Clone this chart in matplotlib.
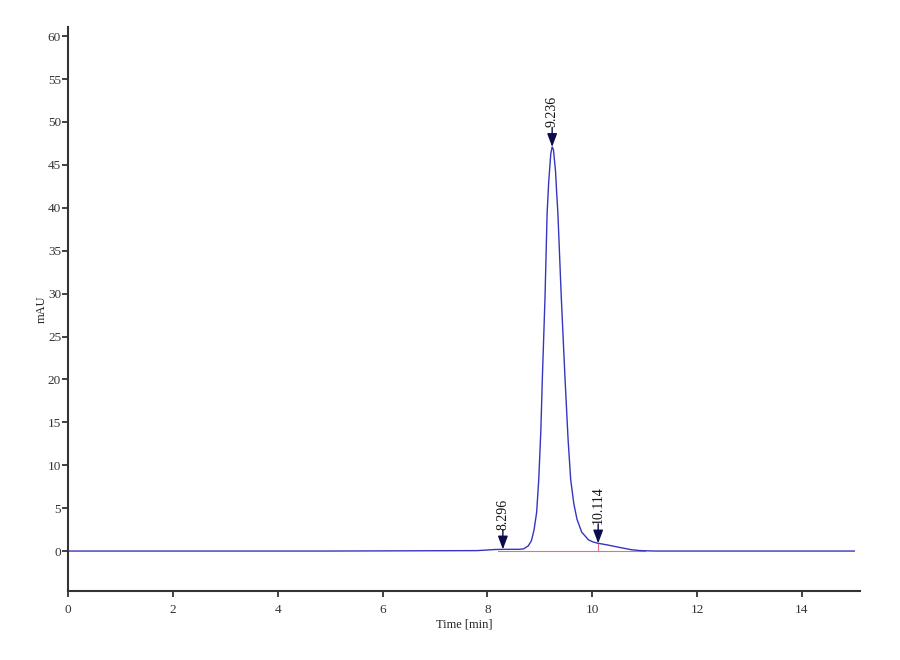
import matplotlib
matplotlib.use("Agg")
import matplotlib.pyplot as plt

# ---- data ----
time_min = [0.0, 5.0, 7.8, 8.0, 8.15, 8.3, 8.45, 8.6, 8.69, 8.78, 8.84, 8.89, 8.94,
            8.98, 9.02, 9.05, 9.10, 9.14, 9.17, 9.21, 9.236, 9.26, 9.30, 9.32,
            9.345, 9.41, 9.48, 9.54, 9.59, 9.65, 9.71, 9.80, 9.93, 10.02, 10.114,
            10.3, 10.54, 10.75, 10.92, 11.2, 15.0]
signal_mau = [0.0, 0.0, 0.05, 0.12, 0.18, 0.2, 0.2, 0.2, 0.25, 0.6, 1.2, 2.45, 4.5,
              8.3, 14.0, 20.3, 29.6, 39.4, 43.0, 46.3, 47.1, 46.8, 44.3, 42.0,
              39.4, 29.6, 20.3, 13.0, 8.3, 5.5, 3.7, 2.2, 1.3, 1.05, 0.9,
              0.7, 0.4, 0.15, 0.05, 0.0, 0.0]
peak_times = [8.296, 9.236, 10.114]
peak_heights = [0.2, 47.1, 0.9]
peak_labels = ["8.296", "9.236", "10.114"]
x_ticks = [0, 2, 4, 6, 8, 10, 12, 14]
y_ticks = [0, 5, 10, 15, 20, 25, 30, 35, 40, 45, 50, 55, 60]
baseline_range = [8.2, 11.0]

plt.rcParams['font.family'] = ['Liberation Serif', 'DejaVu Serif']

fig = plt.figure(figsize=(9, 6.6), dpi=100)
ax = fig.add_axes([0.0756, 0.1045, 0.880, 0.855])

# integration baseline and drop line
ax.plot(baseline_range, [0, 0], color='#e07090', lw=0.8, zorder=1)
ax.plot([peak_times[2], peak_times[2]], [0, peak_heights[2]], color='#e07090', lw=0.8, zorder=1)

ax.plot(time_min, signal_mau, color='#3535c0', lw=1.0, zorder=2)

navy = '#0b0b4a'
for t, h, lab in zip(peak_times, peak_heights, peak_labels):
    ax.annotate('', xy=(t, h), xytext=(0, 14), textcoords='offset points',
                arrowprops=dict(arrowstyle='-|>,head_width=0.3,head_length=0.8',
                                color=navy, lw=1.0, shrinkA=0, shrinkB=0), zorder=3)
    ax.annotate(lab, xy=(t, h), xytext=(0, 14), textcoords='offset points',
                rotation=90, ha='center', va='bottom', fontsize=10, color='#111111')

ax.set_xlim(0, 15.11)
ax.set_ylim(-4.66, 61.1)
ax.set_xticks(x_ticks)
ax.set_yticks(y_ticks)
ax.set_xticklabels([str(v) for v in x_ticks])
ax.set_yticklabels([str(v) for v in y_ticks])

for s in ['top', 'right']:
    ax.spines[s].set_visible(False)
for s in ['left', 'bottom']:
    ax.spines[s].set_color('#333333')
    ax.spines[s].set_linewidth(1.5)

ax.tick_params(axis='both', direction='out', length=4, width=1.3, color='#333333',
               labelsize=9.5, labelcolor='#333333', pad=1)
ax.tick_params(axis='x', pad=5)

ax.set_xlabel('Time [min]', fontsize=9, color='#222222', labelpad=2)
ax.set_ylabel('mAU', fontsize=9, color='#222222', labelpad=0)

fig.savefig('out.png', dpi=100, facecolor='white')
